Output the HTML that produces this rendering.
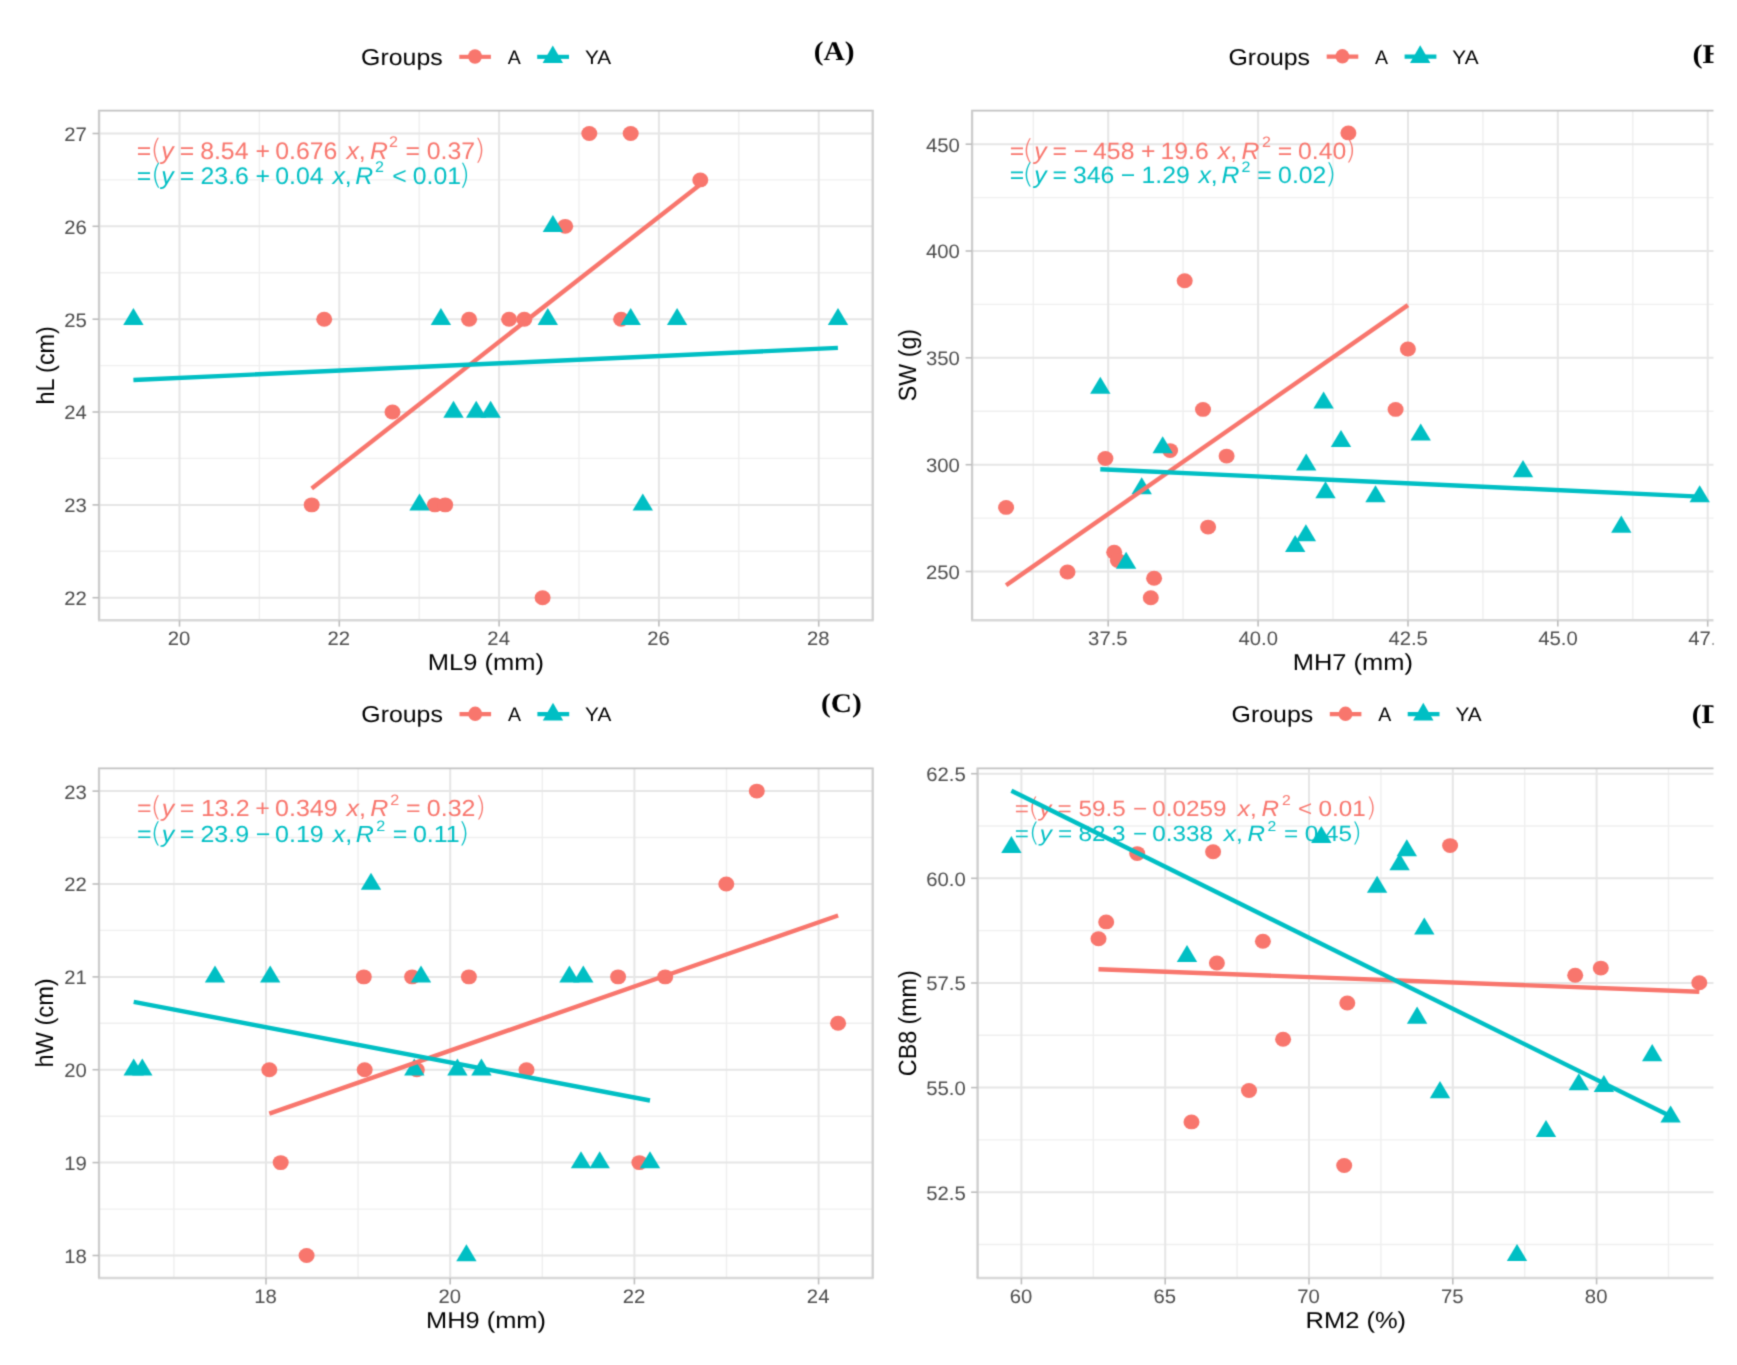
<!DOCTYPE html><html><head><meta charset="utf-8"><style>html,body{margin:0;padding:0;background:#fff;overflow:hidden}svg{display:block} text{font-family:"Liberation Sans",Arial,sans-serif;text-rendering:geometricPrecision}</style></head><body>
<svg width="1737" height="1365" viewBox="0 0 1737 1365">
<defs><filter id="soft" x="0" y="0" width="1737" height="1365" filterUnits="userSpaceOnUse" color-interpolation-filters="sRGB"><feConvolveMatrix order="3" kernelMatrix="0.02768 0.11101 0.02768 0.11101 0.44521 0.11101 0.02768 0.11101 0.02768" divisor="1" edgeMode="duplicate" preserveAlpha="true"/></filter></defs>
<g filter="url(#soft)">
<rect width="1737" height="1365" fill="#fff"/>
<line x1="99.6" y1="110.6" x2="99.6" y2="620.3" stroke="#EFEFEF" stroke-width="1.4"/>
<line x1="259.4" y1="110.6" x2="259.4" y2="620.3" stroke="#EFEFEF" stroke-width="1.4"/>
<line x1="419.2" y1="110.6" x2="419.2" y2="620.3" stroke="#EFEFEF" stroke-width="1.4"/>
<line x1="579.0" y1="110.6" x2="579.0" y2="620.3" stroke="#EFEFEF" stroke-width="1.4"/>
<line x1="738.8" y1="110.6" x2="738.8" y2="620.3" stroke="#EFEFEF" stroke-width="1.4"/>
<line x1="99.0" y1="551.3" x2="872.7" y2="551.3" stroke="#EFEFEF" stroke-width="1.4"/>
<line x1="99.0" y1="458.4" x2="872.7" y2="458.4" stroke="#EFEFEF" stroke-width="1.4"/>
<line x1="99.0" y1="365.6" x2="872.7" y2="365.6" stroke="#EFEFEF" stroke-width="1.4"/>
<line x1="99.0" y1="272.8" x2="872.7" y2="272.8" stroke="#EFEFEF" stroke-width="1.4"/>
<line x1="99.0" y1="179.9" x2="872.7" y2="179.9" stroke="#EFEFEF" stroke-width="1.4"/>
<line x1="179.5" y1="110.6" x2="179.5" y2="620.3" stroke="#E6E6E6" stroke-width="2.0"/>
<line x1="339.3" y1="110.6" x2="339.3" y2="620.3" stroke="#E6E6E6" stroke-width="2.0"/>
<line x1="499.1" y1="110.6" x2="499.1" y2="620.3" stroke="#E6E6E6" stroke-width="2.0"/>
<line x1="658.9" y1="110.6" x2="658.9" y2="620.3" stroke="#E6E6E6" stroke-width="2.0"/>
<line x1="818.7" y1="110.6" x2="818.7" y2="620.3" stroke="#E6E6E6" stroke-width="2.0"/>
<line x1="99.0" y1="597.7" x2="872.7" y2="597.7" stroke="#E6E6E6" stroke-width="2.0"/>
<line x1="99.0" y1="504.9" x2="872.7" y2="504.9" stroke="#E6E6E6" stroke-width="2.0"/>
<line x1="99.0" y1="412.0" x2="872.7" y2="412.0" stroke="#E6E6E6" stroke-width="2.0"/>
<line x1="99.0" y1="319.2" x2="872.7" y2="319.2" stroke="#E6E6E6" stroke-width="2.0"/>
<line x1="99.0" y1="226.3" x2="872.7" y2="226.3" stroke="#E6E6E6" stroke-width="2.0"/>
<line x1="99.0" y1="133.5" x2="872.7" y2="133.5" stroke="#E6E6E6" stroke-width="2.0"/>
<line x1="98.0" y1="110.6" x2="873.7" y2="110.6" stroke="#C2C2C2" stroke-width="1.7"/>
<line x1="98.0" y1="620.3" x2="873.7" y2="620.3" stroke="#D8D8D8" stroke-width="2.5"/>
<line x1="99.0" y1="110.6" x2="99.0" y2="620.3" stroke="#CDCDCD" stroke-width="2.3"/>
<line x1="872.7" y1="110.6" x2="872.7" y2="620.3" stroke="#D0D0D0" stroke-width="2.3"/>
<line x1="179.5" y1="620.3" x2="179.5" y2="626.5999999999999" stroke="#BDBDBD" stroke-width="1.6"/>
<line x1="339.3" y1="620.3" x2="339.3" y2="626.5999999999999" stroke="#BDBDBD" stroke-width="1.6"/>
<line x1="499.1" y1="620.3" x2="499.1" y2="626.5999999999999" stroke="#BDBDBD" stroke-width="1.6"/>
<line x1="658.9" y1="620.3" x2="658.9" y2="626.5999999999999" stroke="#BDBDBD" stroke-width="1.6"/>
<line x1="818.7" y1="620.3" x2="818.7" y2="626.5999999999999" stroke="#BDBDBD" stroke-width="1.6"/>
<line x1="92.5" y1="597.7" x2="99.0" y2="597.7" stroke="#BDBDBD" stroke-width="1.6"/>
<line x1="92.5" y1="504.9" x2="99.0" y2="504.9" stroke="#BDBDBD" stroke-width="1.6"/>
<line x1="92.5" y1="412.0" x2="99.0" y2="412.0" stroke="#BDBDBD" stroke-width="1.6"/>
<line x1="92.5" y1="319.2" x2="99.0" y2="319.2" stroke="#BDBDBD" stroke-width="1.6"/>
<line x1="92.5" y1="226.3" x2="99.0" y2="226.3" stroke="#BDBDBD" stroke-width="1.6"/>
<line x1="92.5" y1="133.5" x2="99.0" y2="133.5" stroke="#BDBDBD" stroke-width="1.6"/>
<line x1="1033.3" y1="110.6" x2="1033.3" y2="620.3" stroke="#EFEFEF" stroke-width="1.4"/>
<line x1="1183.1" y1="110.6" x2="1183.1" y2="620.3" stroke="#EFEFEF" stroke-width="1.4"/>
<line x1="1333.0" y1="110.6" x2="1333.0" y2="620.3" stroke="#EFEFEF" stroke-width="1.4"/>
<line x1="1482.9" y1="110.6" x2="1482.9" y2="620.3" stroke="#EFEFEF" stroke-width="1.4"/>
<line x1="1632.8" y1="110.6" x2="1632.8" y2="620.3" stroke="#EFEFEF" stroke-width="1.4"/>
<line x1="972.1" y1="518.1" x2="1760" y2="518.1" stroke="#EFEFEF" stroke-width="1.4"/>
<line x1="972.1" y1="411.3" x2="1760" y2="411.3" stroke="#EFEFEF" stroke-width="1.4"/>
<line x1="972.1" y1="304.4" x2="1760" y2="304.4" stroke="#EFEFEF" stroke-width="1.4"/>
<line x1="972.1" y1="197.6" x2="1760" y2="197.6" stroke="#EFEFEF" stroke-width="1.4"/>
<line x1="1108.2" y1="110.6" x2="1108.2" y2="620.3" stroke="#E6E6E6" stroke-width="2.0"/>
<line x1="1258.1" y1="110.6" x2="1258.1" y2="620.3" stroke="#E6E6E6" stroke-width="2.0"/>
<line x1="1408.0" y1="110.6" x2="1408.0" y2="620.3" stroke="#E6E6E6" stroke-width="2.0"/>
<line x1="1557.8" y1="110.6" x2="1557.8" y2="620.3" stroke="#E6E6E6" stroke-width="2.0"/>
<line x1="1707.7" y1="110.6" x2="1707.7" y2="620.3" stroke="#E6E6E6" stroke-width="2.0"/>
<line x1="972.1" y1="571.5" x2="1760" y2="571.5" stroke="#E6E6E6" stroke-width="2.0"/>
<line x1="972.1" y1="464.7" x2="1760" y2="464.7" stroke="#E6E6E6" stroke-width="2.0"/>
<line x1="972.1" y1="357.8" x2="1760" y2="357.8" stroke="#E6E6E6" stroke-width="2.0"/>
<line x1="972.1" y1="251.0" x2="1760" y2="251.0" stroke="#E6E6E6" stroke-width="2.0"/>
<line x1="972.1" y1="144.2" x2="1760" y2="144.2" stroke="#E6E6E6" stroke-width="2.0"/>
<line x1="971.1" y1="110.6" x2="1761" y2="110.6" stroke="#C2C2C2" stroke-width="1.7"/>
<line x1="971.1" y1="620.3" x2="1761" y2="620.3" stroke="#D8D8D8" stroke-width="2.5"/>
<line x1="972.1" y1="110.6" x2="972.1" y2="620.3" stroke="#CDCDCD" stroke-width="2.3"/>
<line x1="1760" y1="110.6" x2="1760" y2="620.3" stroke="#D0D0D0" stroke-width="2.3"/>
<line x1="1108.2" y1="620.3" x2="1108.2" y2="626.5999999999999" stroke="#BDBDBD" stroke-width="1.6"/>
<line x1="1258.1" y1="620.3" x2="1258.1" y2="626.5999999999999" stroke="#BDBDBD" stroke-width="1.6"/>
<line x1="1408.0" y1="620.3" x2="1408.0" y2="626.5999999999999" stroke="#BDBDBD" stroke-width="1.6"/>
<line x1="1557.8" y1="620.3" x2="1557.8" y2="626.5999999999999" stroke="#BDBDBD" stroke-width="1.6"/>
<line x1="1707.7" y1="620.3" x2="1707.7" y2="626.5999999999999" stroke="#BDBDBD" stroke-width="1.6"/>
<line x1="965.6" y1="571.5" x2="972.1" y2="571.5" stroke="#BDBDBD" stroke-width="1.6"/>
<line x1="965.6" y1="464.7" x2="972.1" y2="464.7" stroke="#BDBDBD" stroke-width="1.6"/>
<line x1="965.6" y1="357.8" x2="972.1" y2="357.8" stroke="#BDBDBD" stroke-width="1.6"/>
<line x1="965.6" y1="251.0" x2="972.1" y2="251.0" stroke="#BDBDBD" stroke-width="1.6"/>
<line x1="965.6" y1="144.2" x2="972.1" y2="144.2" stroke="#BDBDBD" stroke-width="1.6"/>
<line x1="173.9" y1="768.4" x2="173.9" y2="1278.1" stroke="#EFEFEF" stroke-width="1.4"/>
<line x1="358.1" y1="768.4" x2="358.1" y2="1278.1" stroke="#EFEFEF" stroke-width="1.4"/>
<line x1="542.3" y1="768.4" x2="542.3" y2="1278.1" stroke="#EFEFEF" stroke-width="1.4"/>
<line x1="726.5" y1="768.4" x2="726.5" y2="1278.1" stroke="#EFEFEF" stroke-width="1.4"/>
<line x1="99.0" y1="1209.1" x2="872.7" y2="1209.1" stroke="#EFEFEF" stroke-width="1.4"/>
<line x1="99.0" y1="1116.2" x2="872.7" y2="1116.2" stroke="#EFEFEF" stroke-width="1.4"/>
<line x1="99.0" y1="1023.3" x2="872.7" y2="1023.3" stroke="#EFEFEF" stroke-width="1.4"/>
<line x1="99.0" y1="930.4" x2="872.7" y2="930.4" stroke="#EFEFEF" stroke-width="1.4"/>
<line x1="99.0" y1="837.5" x2="872.7" y2="837.5" stroke="#EFEFEF" stroke-width="1.4"/>
<line x1="266.0" y1="768.4" x2="266.0" y2="1278.1" stroke="#E6E6E6" stroke-width="2.0"/>
<line x1="450.2" y1="768.4" x2="450.2" y2="1278.1" stroke="#E6E6E6" stroke-width="2.0"/>
<line x1="634.4" y1="768.4" x2="634.4" y2="1278.1" stroke="#E6E6E6" stroke-width="2.0"/>
<line x1="818.6" y1="768.4" x2="818.6" y2="1278.1" stroke="#E6E6E6" stroke-width="2.0"/>
<line x1="99.0" y1="1255.5" x2="872.7" y2="1255.5" stroke="#E6E6E6" stroke-width="2.0"/>
<line x1="99.0" y1="1162.6" x2="872.7" y2="1162.6" stroke="#E6E6E6" stroke-width="2.0"/>
<line x1="99.0" y1="1069.7" x2="872.7" y2="1069.7" stroke="#E6E6E6" stroke-width="2.0"/>
<line x1="99.0" y1="976.9" x2="872.7" y2="976.9" stroke="#E6E6E6" stroke-width="2.0"/>
<line x1="99.0" y1="884.0" x2="872.7" y2="884.0" stroke="#E6E6E6" stroke-width="2.0"/>
<line x1="99.0" y1="791.1" x2="872.7" y2="791.1" stroke="#E6E6E6" stroke-width="2.0"/>
<line x1="98.0" y1="768.4" x2="873.7" y2="768.4" stroke="#C2C2C2" stroke-width="1.7"/>
<line x1="98.0" y1="1278.1" x2="873.7" y2="1278.1" stroke="#D8D8D8" stroke-width="2.5"/>
<line x1="99.0" y1="768.4" x2="99.0" y2="1278.1" stroke="#CDCDCD" stroke-width="2.3"/>
<line x1="872.7" y1="768.4" x2="872.7" y2="1278.1" stroke="#D0D0D0" stroke-width="2.3"/>
<line x1="266.0" y1="1278.1" x2="266.0" y2="1284.3999999999999" stroke="#BDBDBD" stroke-width="1.6"/>
<line x1="450.2" y1="1278.1" x2="450.2" y2="1284.3999999999999" stroke="#BDBDBD" stroke-width="1.6"/>
<line x1="634.4" y1="1278.1" x2="634.4" y2="1284.3999999999999" stroke="#BDBDBD" stroke-width="1.6"/>
<line x1="818.6" y1="1278.1" x2="818.6" y2="1284.3999999999999" stroke="#BDBDBD" stroke-width="1.6"/>
<line x1="92.5" y1="1255.5" x2="99.0" y2="1255.5" stroke="#BDBDBD" stroke-width="1.6"/>
<line x1="92.5" y1="1162.6" x2="99.0" y2="1162.6" stroke="#BDBDBD" stroke-width="1.6"/>
<line x1="92.5" y1="1069.7" x2="99.0" y2="1069.7" stroke="#BDBDBD" stroke-width="1.6"/>
<line x1="92.5" y1="976.9" x2="99.0" y2="976.9" stroke="#BDBDBD" stroke-width="1.6"/>
<line x1="92.5" y1="884.0" x2="99.0" y2="884.0" stroke="#BDBDBD" stroke-width="1.6"/>
<line x1="92.5" y1="791.1" x2="99.0" y2="791.1" stroke="#BDBDBD" stroke-width="1.6"/>
<line x1="1093.3" y1="768.4" x2="1093.3" y2="1278.1" stroke="#EFEFEF" stroke-width="1.4"/>
<line x1="1237.1" y1="768.4" x2="1237.1" y2="1278.1" stroke="#EFEFEF" stroke-width="1.4"/>
<line x1="1380.9" y1="768.4" x2="1380.9" y2="1278.1" stroke="#EFEFEF" stroke-width="1.4"/>
<line x1="1524.7" y1="768.4" x2="1524.7" y2="1278.1" stroke="#EFEFEF" stroke-width="1.4"/>
<line x1="1668.5" y1="768.4" x2="1668.5" y2="1278.1" stroke="#EFEFEF" stroke-width="1.4"/>
<line x1="977.6" y1="1244.5" x2="1760" y2="1244.5" stroke="#EFEFEF" stroke-width="1.4"/>
<line x1="977.6" y1="1139.9" x2="1760" y2="1139.9" stroke="#EFEFEF" stroke-width="1.4"/>
<line x1="977.6" y1="1035.3" x2="1760" y2="1035.3" stroke="#EFEFEF" stroke-width="1.4"/>
<line x1="977.6" y1="930.6" x2="1760" y2="930.6" stroke="#EFEFEF" stroke-width="1.4"/>
<line x1="977.6" y1="826.0" x2="1760" y2="826.0" stroke="#EFEFEF" stroke-width="1.4"/>
<line x1="1021.4" y1="768.4" x2="1021.4" y2="1278.1" stroke="#E6E6E6" stroke-width="2.0"/>
<line x1="1165.2" y1="768.4" x2="1165.2" y2="1278.1" stroke="#E6E6E6" stroke-width="2.0"/>
<line x1="1309.0" y1="768.4" x2="1309.0" y2="1278.1" stroke="#E6E6E6" stroke-width="2.0"/>
<line x1="1452.8" y1="768.4" x2="1452.8" y2="1278.1" stroke="#E6E6E6" stroke-width="2.0"/>
<line x1="1596.6" y1="768.4" x2="1596.6" y2="1278.1" stroke="#E6E6E6" stroke-width="2.0"/>
<line x1="977.6" y1="1192.2" x2="1760" y2="1192.2" stroke="#E6E6E6" stroke-width="2.0"/>
<line x1="977.6" y1="1087.6" x2="1760" y2="1087.6" stroke="#E6E6E6" stroke-width="2.0"/>
<line x1="977.6" y1="983.0" x2="1760" y2="983.0" stroke="#E6E6E6" stroke-width="2.0"/>
<line x1="977.6" y1="878.3" x2="1760" y2="878.3" stroke="#E6E6E6" stroke-width="2.0"/>
<line x1="977.6" y1="773.7" x2="1760" y2="773.7" stroke="#E6E6E6" stroke-width="2.0"/>
<line x1="976.6" y1="768.4" x2="1761" y2="768.4" stroke="#C2C2C2" stroke-width="1.7"/>
<line x1="976.6" y1="1278.1" x2="1761" y2="1278.1" stroke="#D8D8D8" stroke-width="2.5"/>
<line x1="977.6" y1="768.4" x2="977.6" y2="1278.1" stroke="#CDCDCD" stroke-width="2.3"/>
<line x1="1760" y1="768.4" x2="1760" y2="1278.1" stroke="#D0D0D0" stroke-width="2.3"/>
<line x1="1021.4" y1="1278.1" x2="1021.4" y2="1284.3999999999999" stroke="#BDBDBD" stroke-width="1.6"/>
<line x1="1165.2" y1="1278.1" x2="1165.2" y2="1284.3999999999999" stroke="#BDBDBD" stroke-width="1.6"/>
<line x1="1309.0" y1="1278.1" x2="1309.0" y2="1284.3999999999999" stroke="#BDBDBD" stroke-width="1.6"/>
<line x1="1452.8" y1="1278.1" x2="1452.8" y2="1284.3999999999999" stroke="#BDBDBD" stroke-width="1.6"/>
<line x1="1596.6" y1="1278.1" x2="1596.6" y2="1284.3999999999999" stroke="#BDBDBD" stroke-width="1.6"/>
<line x1="971.1" y1="1192.2" x2="977.6" y2="1192.2" stroke="#BDBDBD" stroke-width="1.6"/>
<line x1="971.1" y1="1087.6" x2="977.6" y2="1087.6" stroke="#BDBDBD" stroke-width="1.6"/>
<line x1="971.1" y1="983.0" x2="977.6" y2="983.0" stroke="#BDBDBD" stroke-width="1.6"/>
<line x1="971.1" y1="878.3" x2="977.6" y2="878.3" stroke="#BDBDBD" stroke-width="1.6"/>
<line x1="971.1" y1="773.7" x2="977.6" y2="773.7" stroke="#BDBDBD" stroke-width="1.6"/>
<text x="167.76" y="644.90" fill="#4D4D4D" font-size="19.5" textLength="22.57" lengthAdjust="spacingAndGlyphs">20</text>
<text x="327.56" y="644.90" fill="#4D4D4D" font-size="19.5" textLength="22.57" lengthAdjust="spacingAndGlyphs">22</text>
<text x="487.36" y="644.90" fill="#4D4D4D" font-size="19.5" textLength="22.57" lengthAdjust="spacingAndGlyphs">24</text>
<text x="647.16" y="644.90" fill="#4D4D4D" font-size="19.5" textLength="22.57" lengthAdjust="spacingAndGlyphs">26</text>
<text x="806.96" y="644.90" fill="#4D4D4D" font-size="19.5" textLength="22.57" lengthAdjust="spacingAndGlyphs">28</text>
<text x="64.26" y="605.15" fill="#4D4D4D" font-size="19.5" textLength="22.57" lengthAdjust="spacingAndGlyphs">22</text>
<text x="64.26" y="512.31" fill="#4D4D4D" font-size="19.5" textLength="22.57" lengthAdjust="spacingAndGlyphs">23</text>
<text x="64.26" y="419.47" fill="#4D4D4D" font-size="19.5" textLength="22.57" lengthAdjust="spacingAndGlyphs">24</text>
<text x="64.26" y="326.63" fill="#4D4D4D" font-size="19.5" textLength="22.57" lengthAdjust="spacingAndGlyphs">25</text>
<text x="64.26" y="233.79" fill="#4D4D4D" font-size="19.5" textLength="22.57" lengthAdjust="spacingAndGlyphs">26</text>
<text x="64.26" y="140.95" fill="#4D4D4D" font-size="19.5" textLength="22.57" lengthAdjust="spacingAndGlyphs">27</text>
<text x="427.88" y="670.40" fill="#000" font-size="23.0" textLength="116.09" lengthAdjust="spacingAndGlyphs">ML9 (mm)</text>
<text transform="translate(53.80,0) rotate(-90)" x="-404.58" y="0" fill="#000" font-size="24.84" textLength="78.45" lengthAdjust="spacingAndGlyphs">hL (cm)</text>
<text x="361.12" y="64.90" fill="#000" font-size="23.0" textLength="81.55" lengthAdjust="spacingAndGlyphs">Groups</text>
<text x="507.70" y="63.70" fill="#000" font-size="19.5" textLength="13.02" lengthAdjust="spacingAndGlyphs">A</text>
<text x="584.93" y="63.70" fill="#000" font-size="19.5" textLength="26.18" lengthAdjust="spacingAndGlyphs">YA</text>
<text x="813.81" y="59.50" fill="#000" font-size="27" font-weight="bold" style="font-family:'Liberation Serif',serif" textLength="40.70" lengthAdjust="spacingAndGlyphs">(A)</text>
<text x="1088.14" y="644.90" fill="#4D4D4D" font-size="19.5" textLength="39.47" lengthAdjust="spacingAndGlyphs">37.5</text>
<text x="1238.54" y="644.90" fill="#4D4D4D" font-size="19.5" textLength="39.47" lengthAdjust="spacingAndGlyphs">40.0</text>
<text x="1388.41" y="644.90" fill="#4D4D4D" font-size="19.5" textLength="39.47" lengthAdjust="spacingAndGlyphs">42.5</text>
<text x="1538.29" y="644.90" fill="#4D4D4D" font-size="19.5" textLength="39.47" lengthAdjust="spacingAndGlyphs">45.0</text>
<text x="1688.16" y="644.90" fill="#4D4D4D" font-size="19.5" textLength="39.47" lengthAdjust="spacingAndGlyphs">47.5</text>
<text x="925.92" y="578.95" fill="#4D4D4D" font-size="19.5" textLength="33.85" lengthAdjust="spacingAndGlyphs">250</text>
<text x="925.92" y="472.12" fill="#4D4D4D" font-size="19.5" textLength="33.85" lengthAdjust="spacingAndGlyphs">300</text>
<text x="925.92" y="365.30" fill="#4D4D4D" font-size="19.5" textLength="33.85" lengthAdjust="spacingAndGlyphs">350</text>
<text x="925.92" y="258.47" fill="#4D4D4D" font-size="19.5" textLength="33.85" lengthAdjust="spacingAndGlyphs">400</text>
<text x="925.92" y="151.65" fill="#4D4D4D" font-size="19.5" textLength="33.85" lengthAdjust="spacingAndGlyphs">450</text>
<text x="1292.69" y="670.40" fill="#000" font-size="23.0" textLength="120.18" lengthAdjust="spacingAndGlyphs">MH7 (mm)</text>
<text transform="translate(915.60,0) rotate(-90)" x="-401.13" y="0" fill="#000" font-size="24.84" textLength="72.20" lengthAdjust="spacingAndGlyphs">SW (g)</text>
<text x="1228.52" y="64.70" fill="#000" font-size="23.0" textLength="81.55" lengthAdjust="spacingAndGlyphs">Groups</text>
<text x="1375.10" y="63.50" fill="#000" font-size="19.5" textLength="13.02" lengthAdjust="spacingAndGlyphs">A</text>
<text x="1452.33" y="63.50" fill="#000" font-size="19.5" textLength="26.18" lengthAdjust="spacingAndGlyphs">YA</text>
<text x="1692.48" y="62.60" fill="#000" font-size="27" font-weight="bold" style="font-family:'Liberation Serif',serif" textLength="40.24" lengthAdjust="spacingAndGlyphs">(B)</text>
<text x="254.26" y="1302.70" fill="#4D4D4D" font-size="19.5" textLength="22.57" lengthAdjust="spacingAndGlyphs">18</text>
<text x="438.46" y="1302.70" fill="#4D4D4D" font-size="19.5" textLength="22.57" lengthAdjust="spacingAndGlyphs">20</text>
<text x="622.66" y="1302.70" fill="#4D4D4D" font-size="19.5" textLength="22.57" lengthAdjust="spacingAndGlyphs">22</text>
<text x="806.86" y="1302.70" fill="#4D4D4D" font-size="19.5" textLength="22.57" lengthAdjust="spacingAndGlyphs">24</text>
<text x="64.26" y="1262.95" fill="#4D4D4D" font-size="19.5" textLength="22.57" lengthAdjust="spacingAndGlyphs">18</text>
<text x="64.26" y="1170.07" fill="#4D4D4D" font-size="19.5" textLength="22.57" lengthAdjust="spacingAndGlyphs">19</text>
<text x="64.26" y="1077.19" fill="#4D4D4D" font-size="19.5" textLength="22.57" lengthAdjust="spacingAndGlyphs">20</text>
<text x="64.26" y="984.31" fill="#4D4D4D" font-size="19.5" textLength="22.57" lengthAdjust="spacingAndGlyphs">21</text>
<text x="64.26" y="891.43" fill="#4D4D4D" font-size="19.5" textLength="22.57" lengthAdjust="spacingAndGlyphs">22</text>
<text x="64.26" y="798.55" fill="#4D4D4D" font-size="19.5" textLength="22.57" lengthAdjust="spacingAndGlyphs">23</text>
<text x="425.99" y="1328.10" fill="#000" font-size="23.0" textLength="119.97" lengthAdjust="spacingAndGlyphs">MH9 (mm)</text>
<text transform="translate(53.30,0) rotate(-90)" x="-1067.60" y="0" fill="#000" font-size="24.84" textLength="89.30" lengthAdjust="spacingAndGlyphs">hW (cm)</text>
<text x="361.32" y="722.20" fill="#000" font-size="23.0" textLength="81.55" lengthAdjust="spacingAndGlyphs">Groups</text>
<text x="507.90" y="721.00" fill="#000" font-size="19.5" textLength="13.02" lengthAdjust="spacingAndGlyphs">A</text>
<text x="585.13" y="721.00" fill="#000" font-size="19.5" textLength="26.18" lengthAdjust="spacingAndGlyphs">YA</text>
<text x="821.01" y="711.50" fill="#000" font-size="27" font-weight="bold" style="font-family:'Liberation Serif',serif" textLength="40.70" lengthAdjust="spacingAndGlyphs">(C)</text>
<text x="1009.66" y="1302.70" fill="#4D4D4D" font-size="19.5" textLength="22.57" lengthAdjust="spacingAndGlyphs">60</text>
<text x="1153.46" y="1302.70" fill="#4D4D4D" font-size="19.5" textLength="22.57" lengthAdjust="spacingAndGlyphs">65</text>
<text x="1297.26" y="1302.70" fill="#4D4D4D" font-size="19.5" textLength="22.57" lengthAdjust="spacingAndGlyphs">70</text>
<text x="1441.06" y="1302.70" fill="#4D4D4D" font-size="19.5" textLength="22.57" lengthAdjust="spacingAndGlyphs">75</text>
<text x="1584.86" y="1302.70" fill="#4D4D4D" font-size="19.5" textLength="22.57" lengthAdjust="spacingAndGlyphs">80</text>
<text x="926.22" y="1199.65" fill="#4D4D4D" font-size="19.5" textLength="39.47" lengthAdjust="spacingAndGlyphs">52.5</text>
<text x="926.22" y="1095.03" fill="#4D4D4D" font-size="19.5" textLength="39.47" lengthAdjust="spacingAndGlyphs">55.0</text>
<text x="926.22" y="990.40" fill="#4D4D4D" font-size="19.5" textLength="39.47" lengthAdjust="spacingAndGlyphs">57.5</text>
<text x="926.22" y="885.78" fill="#4D4D4D" font-size="19.5" textLength="39.47" lengthAdjust="spacingAndGlyphs">60.0</text>
<text x="926.22" y="781.15" fill="#4D4D4D" font-size="19.5" textLength="39.47" lengthAdjust="spacingAndGlyphs">62.5</text>
<text x="1305.58" y="1328.10" fill="#000" font-size="23.0" textLength="100.54" lengthAdjust="spacingAndGlyphs">RM2 (%)</text>
<text transform="translate(915.50,0) rotate(-90)" x="-1076.14" y="0" fill="#000" font-size="24.84" textLength="105.77" lengthAdjust="spacingAndGlyphs">CB8 (mm)</text>
<text x="1231.62" y="722.20" fill="#000" font-size="23.0" textLength="81.55" lengthAdjust="spacingAndGlyphs">Groups</text>
<text x="1378.20" y="721.00" fill="#000" font-size="19.5" textLength="13.02" lengthAdjust="spacingAndGlyphs">A</text>
<text x="1455.43" y="721.00" fill="#000" font-size="19.5" textLength="26.18" lengthAdjust="spacingAndGlyphs">YA</text>
<text x="1691.81" y="722.80" fill="#000" font-size="27" font-weight="bold" style="font-family:'Liberation Serif',serif" textLength="40.70" lengthAdjust="spacingAndGlyphs">(D)</text>
<text transform="scale(1.034,1)" y="158.80" fill="#F8766D" font-size="24.0"><tspan x="132.36">=</tspan><tspan font-size="28.00" style="font-family:'DejaVu Sans',sans-serif;font-weight:200" x="145.57">(</tspan><tspan font-style="italic" x="155.96">y</tspan><tspan x="173.95">=</tspan><tspan x="193.60">8.54</tspan><tspan x="247.16">+</tspan><tspan x="266.25">0.676</tspan><tspan font-style="italic" x="335.00">x</tspan><tspan>,</tspan><tspan font-style="italic" x="357.79">R</tspan><tspan font-size="15.55" dy="-11.48" x="376.11">2</tspan><tspan dy="11.48" x="392.22">=</tspan><tspan x="412.68">0.37</tspan><tspan font-size="28.00" style="font-family:'DejaVu Sans',sans-serif;font-weight:200" x="458.33">)</tspan></text>
<text transform="scale(1.034,1)" y="183.60" fill="#00BFC4" font-size="24.0"><tspan x="132.36">=</tspan><tspan font-size="28.00" style="font-family:'DejaVu Sans',sans-serif;font-weight:200" x="146.05">(</tspan><tspan font-style="italic" x="155.96">y</tspan><tspan x="173.95">=</tspan><tspan x="193.96">23.6</tspan><tspan x="247.16">+</tspan><tspan x="266.25">0.04</tspan><tspan font-style="italic" x="321.46">x</tspan><tspan>,</tspan><tspan font-style="italic" x="343.67">R</tspan><tspan font-size="15.55" dy="-11.48" x="362.67">2</tspan><tspan dy="11.48" x="379.36">&lt;</tspan><tspan x="399.23">0.01</tspan><tspan font-size="28.00" style="font-family:'DejaVu Sans',sans-serif;font-weight:200" x="443.63">)</tspan></text>
<text transform="scale(1.054,1)" y="158.50" fill="#F8766D" font-size="23.5"><tspan x="958.03">=</tspan><tspan font-size="27.41" style="font-family:'DejaVu Sans',sans-serif;font-weight:200" x="970.23">(</tspan><tspan font-style="italic" x="981.27">y</tspan><tspan x="998.54">=</tspan><tspan x="1018.75">−</tspan><tspan x="1037.10">458</tspan><tspan x="1082.60">+</tspan><tspan x="1101.08">19.6</tspan><tspan font-style="italic" x="1155.40">x</tspan><tspan>,</tspan><tspan font-style="italic" x="1177.85">R</tspan><tspan font-size="15.22" dy="-11.24" x="1197.34">2</tspan><tspan dy="11.24" x="1212.39">=</tspan><tspan x="1231.51">0.40</tspan><tspan font-size="27.41" style="font-family:'DejaVu Sans',sans-serif;font-weight:200" x="1275.92">)</tspan></text>
<text transform="scale(1.054,1)" y="183.40" fill="#00BFC4" font-size="23.5"><tspan x="958.03">=</tspan><tspan font-size="27.41" style="font-family:'DejaVu Sans',sans-serif;font-weight:200" x="970.23">(</tspan><tspan font-style="italic" x="981.27">y</tspan><tspan x="998.54">=</tspan><tspan x="1017.94">346</tspan><tspan x="1063.34">−</tspan><tspan x="1083.06">1.29</tspan><tspan font-style="italic" x="1137.09">x</tspan><tspan>,</tspan><tspan font-style="italic" x="1158.97">R</tspan><tspan font-size="15.22" dy="-11.24" x="1177.80">2</tspan><tspan dy="11.24" x="1192.85">=</tspan><tspan x="1212.63">0.02</tspan><tspan font-size="27.41" style="font-family:'DejaVu Sans',sans-serif;font-weight:200" x="1257.04">)</tspan></text>
<text transform="scale(1.073,1)" y="816.00" fill="#F8766D" font-size="23.3"><tspan x="127.73">=</tspan><tspan font-size="27.18" style="font-family:'DejaVu Sans',sans-serif;font-weight:200" x="140.16">(</tspan><tspan font-style="italic" x="150.68">y</tspan><tspan x="167.43">=</tspan><tspan x="187.26">13.2</tspan><tspan x="237.79">+</tspan><tspan x="256.38">0.349</tspan><tspan font-style="italic" x="323.02">x</tspan><tspan>,</tspan><tspan font-style="italic" x="345.06">R</tspan><tspan font-size="15.09" dy="-11.14" x="363.64">2</tspan><tspan dy="11.14" x="378.42">=</tspan><tspan x="397.76">0.32</tspan><tspan font-size="27.18" style="font-family:'DejaVu Sans',sans-serif;font-weight:200" x="442.49">)</tspan></text>
<text transform="scale(1.073,1)" y="841.80" fill="#00BFC4" font-size="23.3"><tspan x="127.73">=</tspan><tspan font-size="27.18" style="font-family:'DejaVu Sans',sans-serif;font-weight:200" x="140.16">(</tspan><tspan font-style="italic" x="150.68">y</tspan><tspan x="167.43">=</tspan><tspan x="186.81">23.9</tspan><tspan x="238.35">−</tspan><tspan x="256.38">0.19</tspan><tspan font-style="italic" x="310.07">x</tspan><tspan>,</tspan><tspan font-style="italic" x="331.55">R</tspan><tspan font-size="15.09" dy="-11.14" x="350.60">2</tspan><tspan dy="11.14" x="366.03">=</tspan><tspan x="384.81">0.11</tspan><tspan font-size="27.18" style="font-family:'DejaVu Sans',sans-serif;font-weight:200" x="426.74">)</tspan></text>
<text transform="scale(1.103,1)" y="815.60" fill="#F8766D" font-size="22.0"><tspan x="920.02">=</tspan><tspan font-size="25.66" style="font-family:'DejaVu Sans',sans-serif;font-weight:200" x="932.17">(</tspan><tspan font-style="italic" x="942.19">y</tspan><tspan x="958.74">=</tspan><tspan x="977.81">59.5</tspan><tspan x="1027.19">−</tspan><tspan x="1044.72">0.0259</tspan><tspan font-style="italic" x="1122.19">x</tspan><tspan>,</tspan><tspan font-style="italic" x="1143.67">R</tspan><tspan font-size="14.25" dy="-10.52" x="1162.30">2</tspan><tspan dy="10.52" x="1176.69">&lt;</tspan><tspan x="1195.49">0.01</tspan><tspan font-size="25.66" style="font-family:'DejaVu Sans',sans-serif;font-weight:200" x="1237.97">)</tspan></text>
<text transform="scale(1.103,1)" y="841.10" fill="#00BFC4" font-size="22.0"><tspan x="920.02">=</tspan><tspan font-size="25.66" style="font-family:'DejaVu Sans',sans-serif;font-weight:200" x="932.72">(</tspan><tspan font-style="italic" x="942.64">y</tspan><tspan x="959.19">=</tspan><tspan x="977.70">82.3</tspan><tspan x="1027.19">−</tspan><tspan x="1044.72">0.338</tspan><tspan font-style="italic" x="1109.58">x</tspan><tspan>,</tspan><tspan font-style="italic" x="1131.07">R</tspan><tspan font-size="14.25" dy="-10.52" x="1149.15">2</tspan><tspan dy="10.52" x="1164.09">=</tspan><tspan x="1182.89">0.45</tspan><tspan font-size="25.66" style="font-family:'DejaVu Sans',sans-serif;font-weight:200" x="1224.83">)</tspan></text>
<clipPath id="clipA"><rect x="99.0" y="110.6" width="773.7" height="509.69999999999993"/></clipPath>
<g clip-path="url(#clipA)">
<ellipse cx="589.30" cy="133.50" rx="8.0" ry="7.45" fill="#F8766D"/>
<ellipse cx="630.70" cy="133.50" rx="8.0" ry="7.45" fill="#F8766D"/>
<ellipse cx="700.30" cy="179.92" rx="8.0" ry="7.45" fill="#F8766D"/>
<ellipse cx="565.20" cy="226.34" rx="8.0" ry="7.45" fill="#F8766D"/>
<ellipse cx="324.20" cy="319.18" rx="8.0" ry="7.45" fill="#F8766D"/>
<ellipse cx="469.10" cy="319.18" rx="8.0" ry="7.45" fill="#F8766D"/>
<ellipse cx="509.10" cy="319.18" rx="8.0" ry="7.45" fill="#F8766D"/>
<ellipse cx="524.30" cy="319.18" rx="8.0" ry="7.45" fill="#F8766D"/>
<ellipse cx="621.10" cy="319.18" rx="8.0" ry="7.45" fill="#F8766D"/>
<ellipse cx="392.50" cy="412.02" rx="8.0" ry="7.45" fill="#F8766D"/>
<ellipse cx="311.70" cy="504.86" rx="8.0" ry="7.45" fill="#F8766D"/>
<ellipse cx="434.90" cy="504.86" rx="8.0" ry="7.45" fill="#F8766D"/>
<ellipse cx="445.20" cy="504.86" rx="8.0" ry="7.45" fill="#F8766D"/>
<ellipse cx="542.60" cy="597.70" rx="8.0" ry="7.45" fill="#F8766D"/>
<polygon points="133.40,307.88 143.60,324.93 123.20,324.93" fill="#00BFC4"/>
<polygon points="440.90,307.88 451.10,324.93 430.70,324.93" fill="#00BFC4"/>
<polygon points="547.80,307.88 558.00,324.93 537.60,324.93" fill="#00BFC4"/>
<polygon points="630.70,307.88 640.90,324.93 620.50,324.93" fill="#00BFC4"/>
<polygon points="677.10,307.88 687.30,324.93 666.90,324.93" fill="#00BFC4"/>
<polygon points="838.00,307.88 848.20,324.93 827.80,324.93" fill="#00BFC4"/>
<polygon points="552.90,215.04 563.10,232.09 542.70,232.09" fill="#00BFC4"/>
<polygon points="453.50,400.72 463.70,417.77 443.30,417.77" fill="#00BFC4"/>
<polygon points="476.20,400.72 486.40,417.77 466.00,417.77" fill="#00BFC4"/>
<polygon points="490.60,400.72 500.80,417.77 480.40,417.77" fill="#00BFC4"/>
<polygon points="419.50,493.56 429.70,510.61 409.30,510.61" fill="#00BFC4"/>
<polygon points="642.80,493.56 653.00,510.61 632.60,510.61" fill="#00BFC4"/>
<line x1="311.7" y1="488.5" x2="700.3" y2="184.4" stroke="#F8766D" stroke-width="4.4"/>
<line x1="133.4" y1="380.0" x2="837.9" y2="347.9" stroke="#00BFC4" stroke-width="4.4"/>
</g>
<line x1="459.3" y1="56.85" x2="490.9" y2="56.85" stroke="#F8766D" stroke-width="4.1"/>
<ellipse cx="475.0" cy="56.50" rx="6.9" ry="7.25" fill="#F8766D"/>
<line x1="537.2" y1="56.85" x2="569.0" y2="56.85" stroke="#00BFC4" stroke-width="4.1"/>
<polygon points="552.80,45.50 563.00,63.10 542.60,63.10" fill="#00BFC4"/>
<clipPath id="clipB"><rect x="972.1" y="110.6" width="787.9" height="509.69999999999993"/></clipPath>
<g clip-path="url(#clipB)">
<ellipse cx="1348.40" cy="132.90" rx="8.0" ry="7.45" fill="#F8766D"/>
<ellipse cx="1184.70" cy="280.80" rx="8.0" ry="7.45" fill="#F8766D"/>
<ellipse cx="1407.90" cy="349.00" rx="8.0" ry="7.45" fill="#F8766D"/>
<ellipse cx="1203.00" cy="409.40" rx="8.0" ry="7.45" fill="#F8766D"/>
<ellipse cx="1395.60" cy="409.40" rx="8.0" ry="7.45" fill="#F8766D"/>
<ellipse cx="1105.40" cy="458.50" rx="8.0" ry="7.45" fill="#F8766D"/>
<ellipse cx="1170.10" cy="450.60" rx="8.0" ry="7.45" fill="#F8766D"/>
<ellipse cx="1226.60" cy="456.10" rx="8.0" ry="7.45" fill="#F8766D"/>
<ellipse cx="1006.10" cy="507.40" rx="8.0" ry="7.45" fill="#F8766D"/>
<ellipse cx="1208.10" cy="527.10" rx="8.0" ry="7.45" fill="#F8766D"/>
<ellipse cx="1114.20" cy="552.20" rx="8.0" ry="7.45" fill="#F8766D"/>
<ellipse cx="1117.90" cy="560.50" rx="8.0" ry="7.45" fill="#F8766D"/>
<ellipse cx="1067.50" cy="572.00" rx="8.0" ry="7.45" fill="#F8766D"/>
<ellipse cx="1154.10" cy="578.20" rx="8.0" ry="7.45" fill="#F8766D"/>
<ellipse cx="1150.80" cy="597.70" rx="8.0" ry="7.45" fill="#F8766D"/>
<polygon points="1100.30,376.70 1110.50,393.75 1090.10,393.75" fill="#00BFC4"/>
<polygon points="1323.60,391.50 1333.80,408.55 1313.40,408.55" fill="#00BFC4"/>
<polygon points="1341.00,429.90 1351.20,446.95 1330.80,446.95" fill="#00BFC4"/>
<polygon points="1162.70,436.30 1172.90,453.35 1152.50,453.35" fill="#00BFC4"/>
<polygon points="1420.70,423.50 1430.90,440.55 1410.50,440.55" fill="#00BFC4"/>
<polygon points="1306.20,453.40 1316.40,470.45 1296.00,470.45" fill="#00BFC4"/>
<polygon points="1523.00,460.10 1533.20,477.15 1512.80,477.15" fill="#00BFC4"/>
<polygon points="1141.70,477.20 1151.90,494.25 1131.50,494.25" fill="#00BFC4"/>
<polygon points="1325.50,481.20 1335.70,498.25 1315.30,498.25" fill="#00BFC4"/>
<polygon points="1375.50,485.20 1385.70,502.25 1365.30,502.25" fill="#00BFC4"/>
<polygon points="1699.70,485.20 1709.90,502.25 1689.50,502.25" fill="#00BFC4"/>
<polygon points="1621.30,515.60 1631.50,532.65 1611.10,532.65" fill="#00BFC4"/>
<polygon points="1126.10,551.70 1136.30,568.75 1115.90,568.75" fill="#00BFC4"/>
<polygon points="1305.90,524.20 1316.10,541.25 1295.70,541.25" fill="#00BFC4"/>
<polygon points="1295.20,534.90 1305.40,551.95 1285.00,551.95" fill="#00BFC4"/>
<line x1="1006.1" y1="585.2" x2="1407.9" y2="305.1" stroke="#F8766D" stroke-width="4.4"/>
<line x1="1100.3" y1="469.3" x2="1699.7" y2="496.6" stroke="#00BFC4" stroke-width="4.4"/>
</g>
<line x1="1326.7" y1="56.65" x2="1358.3" y2="56.65" stroke="#F8766D" stroke-width="4.1"/>
<ellipse cx="1342.4" cy="56.30" rx="6.9" ry="7.25" fill="#F8766D"/>
<line x1="1404.6" y1="56.65" x2="1436.4" y2="56.65" stroke="#00BFC4" stroke-width="4.1"/>
<polygon points="1420.20,45.30 1430.40,62.90 1410.00,62.90" fill="#00BFC4"/>
<clipPath id="clipC"><rect x="99.0" y="768.4" width="773.7" height="509.69999999999993"/></clipPath>
<g clip-path="url(#clipC)">
<ellipse cx="756.80" cy="791.10" rx="8.0" ry="7.45" fill="#F8766D"/>
<ellipse cx="726.30" cy="883.98" rx="8.0" ry="7.45" fill="#F8766D"/>
<ellipse cx="363.80" cy="976.86" rx="8.0" ry="7.45" fill="#F8766D"/>
<ellipse cx="412.10" cy="976.86" rx="8.0" ry="7.45" fill="#F8766D"/>
<ellipse cx="468.90" cy="976.86" rx="8.0" ry="7.45" fill="#F8766D"/>
<ellipse cx="618.10" cy="976.86" rx="8.0" ry="7.45" fill="#F8766D"/>
<ellipse cx="665.20" cy="976.86" rx="8.0" ry="7.45" fill="#F8766D"/>
<ellipse cx="838.10" cy="1023.30" rx="8.0" ry="7.45" fill="#F8766D"/>
<ellipse cx="269.30" cy="1069.74" rx="8.0" ry="7.45" fill="#F8766D"/>
<ellipse cx="364.70" cy="1069.74" rx="8.0" ry="7.45" fill="#F8766D"/>
<ellipse cx="416.80" cy="1069.74" rx="8.0" ry="7.45" fill="#F8766D"/>
<ellipse cx="526.50" cy="1069.74" rx="8.0" ry="7.45" fill="#F8766D"/>
<ellipse cx="280.70" cy="1162.62" rx="8.0" ry="7.45" fill="#F8766D"/>
<ellipse cx="639.40" cy="1162.62" rx="8.0" ry="7.45" fill="#F8766D"/>
<ellipse cx="306.60" cy="1255.50" rx="8.0" ry="7.45" fill="#F8766D"/>
<polygon points="371.00,872.68 381.20,889.73 360.80,889.73" fill="#00BFC4"/>
<polygon points="215.00,965.56 225.20,982.61 204.80,982.61" fill="#00BFC4"/>
<polygon points="270.20,965.56 280.40,982.61 260.00,982.61" fill="#00BFC4"/>
<polygon points="421.00,965.56 431.20,982.61 410.80,982.61" fill="#00BFC4"/>
<polygon points="569.40,965.56 579.60,982.61 559.20,982.61" fill="#00BFC4"/>
<polygon points="583.30,965.56 593.50,982.61 573.10,982.61" fill="#00BFC4"/>
<polygon points="133.70,1058.44 143.90,1075.49 123.50,1075.49" fill="#00BFC4"/>
<polygon points="142.30,1058.44 152.50,1075.49 132.10,1075.49" fill="#00BFC4"/>
<polygon points="414.30,1058.44 424.50,1075.49 404.10,1075.49" fill="#00BFC4"/>
<polygon points="457.40,1058.44 467.60,1075.49 447.20,1075.49" fill="#00BFC4"/>
<polygon points="481.40,1058.44 491.60,1075.49 471.20,1075.49" fill="#00BFC4"/>
<polygon points="581.00,1151.32 591.20,1168.37 570.80,1168.37" fill="#00BFC4"/>
<polygon points="599.70,1151.32 609.90,1168.37 589.50,1168.37" fill="#00BFC4"/>
<polygon points="650.00,1151.32 660.20,1168.37 639.80,1168.37" fill="#00BFC4"/>
<polygon points="466.40,1244.20 476.60,1261.25 456.20,1261.25" fill="#00BFC4"/>
<line x1="269.3" y1="1113.6" x2="838.1" y2="915.5" stroke="#F8766D" stroke-width="4.4"/>
<line x1="133.7" y1="1001.9" x2="650.0" y2="1100.5" stroke="#00BFC4" stroke-width="4.4"/>
</g>
<line x1="459.5" y1="714.15" x2="491.1" y2="714.15" stroke="#F8766D" stroke-width="4.1"/>
<ellipse cx="475.2" cy="713.80" rx="6.9" ry="7.25" fill="#F8766D"/>
<line x1="537.4" y1="714.15" x2="569.2" y2="714.15" stroke="#00BFC4" stroke-width="4.1"/>
<polygon points="553.00,702.80 563.20,720.40 542.80,720.40" fill="#00BFC4"/>
<clipPath id="clipD"><rect x="977.6" y="768.4" width="782.4" height="509.69999999999993"/></clipPath>
<g clip-path="url(#clipD)">
<ellipse cx="1137.20" cy="853.60" rx="8.0" ry="7.45" fill="#F8766D"/>
<ellipse cx="1213.10" cy="851.80" rx="8.0" ry="7.45" fill="#F8766D"/>
<ellipse cx="1450.10" cy="845.60" rx="8.0" ry="7.45" fill="#F8766D"/>
<ellipse cx="1106.20" cy="921.90" rx="8.0" ry="7.45" fill="#F8766D"/>
<ellipse cx="1098.50" cy="938.70" rx="8.0" ry="7.45" fill="#F8766D"/>
<ellipse cx="1262.90" cy="941.20" rx="8.0" ry="7.45" fill="#F8766D"/>
<ellipse cx="1216.90" cy="963.00" rx="8.0" ry="7.45" fill="#F8766D"/>
<ellipse cx="1347.30" cy="1003.00" rx="8.0" ry="7.45" fill="#F8766D"/>
<ellipse cx="1575.20" cy="975.30" rx="8.0" ry="7.45" fill="#F8766D"/>
<ellipse cx="1600.80" cy="968.10" rx="8.0" ry="7.45" fill="#F8766D"/>
<ellipse cx="1699.30" cy="982.70" rx="8.0" ry="7.45" fill="#F8766D"/>
<ellipse cx="1283.10" cy="1039.30" rx="8.0" ry="7.45" fill="#F8766D"/>
<ellipse cx="1249.00" cy="1090.50" rx="8.0" ry="7.45" fill="#F8766D"/>
<ellipse cx="1191.50" cy="1121.90" rx="8.0" ry="7.45" fill="#F8766D"/>
<ellipse cx="1344.20" cy="1165.50" rx="8.0" ry="7.45" fill="#F8766D"/>
<polygon points="1011.40,836.00 1021.60,853.05 1001.20,853.05" fill="#00BFC4"/>
<polygon points="1321.30,825.90 1331.50,842.95 1311.10,842.95" fill="#00BFC4"/>
<polygon points="1406.80,839.30 1417.00,856.35 1396.60,856.35" fill="#00BFC4"/>
<polygon points="1399.60,853.30 1409.80,870.35 1389.40,870.35" fill="#00BFC4"/>
<polygon points="1377.10,875.70 1387.30,892.75 1366.90,892.75" fill="#00BFC4"/>
<polygon points="1424.30,917.50 1434.50,934.55 1414.10,934.55" fill="#00BFC4"/>
<polygon points="1187.00,944.90 1197.20,961.95 1176.80,961.95" fill="#00BFC4"/>
<polygon points="1417.10,1006.60 1427.30,1023.65 1406.90,1023.65" fill="#00BFC4"/>
<polygon points="1652.20,1044.10 1662.40,1061.15 1642.00,1061.15" fill="#00BFC4"/>
<polygon points="1578.80,1073.30 1589.00,1090.35 1568.60,1090.35" fill="#00BFC4"/>
<polygon points="1603.90,1075.00 1614.10,1092.05 1593.70,1092.05" fill="#00BFC4"/>
<polygon points="1440.00,1081.10 1450.20,1098.15 1429.80,1098.15" fill="#00BFC4"/>
<polygon points="1546.00,1120.00 1556.20,1137.05 1535.80,1137.05" fill="#00BFC4"/>
<polygon points="1670.60,1105.40 1680.80,1122.45 1660.40,1122.45" fill="#00BFC4"/>
<polygon points="1517.00,1243.90 1527.20,1260.95 1506.80,1260.95" fill="#00BFC4"/>
<line x1="1098.5" y1="969.3" x2="1699.3" y2="991.7" stroke="#F8766D" stroke-width="4.4"/>
<line x1="1011.4" y1="790.8" x2="1670.6" y2="1116.3" stroke="#00BFC4" stroke-width="4.4"/>
</g>
<line x1="1329.8" y1="714.15" x2="1361.4" y2="714.15" stroke="#F8766D" stroke-width="4.1"/>
<ellipse cx="1345.5" cy="713.80" rx="6.9" ry="7.25" fill="#F8766D"/>
<line x1="1407.7" y1="714.15" x2="1439.5" y2="714.15" stroke="#00BFC4" stroke-width="4.1"/>
<polygon points="1423.30,702.80 1433.50,720.40 1413.10,720.40" fill="#00BFC4"/>
<rect x="1713.5" y="0" width="24" height="1365" fill="#fff"/>
</g>
</svg></body></html>
